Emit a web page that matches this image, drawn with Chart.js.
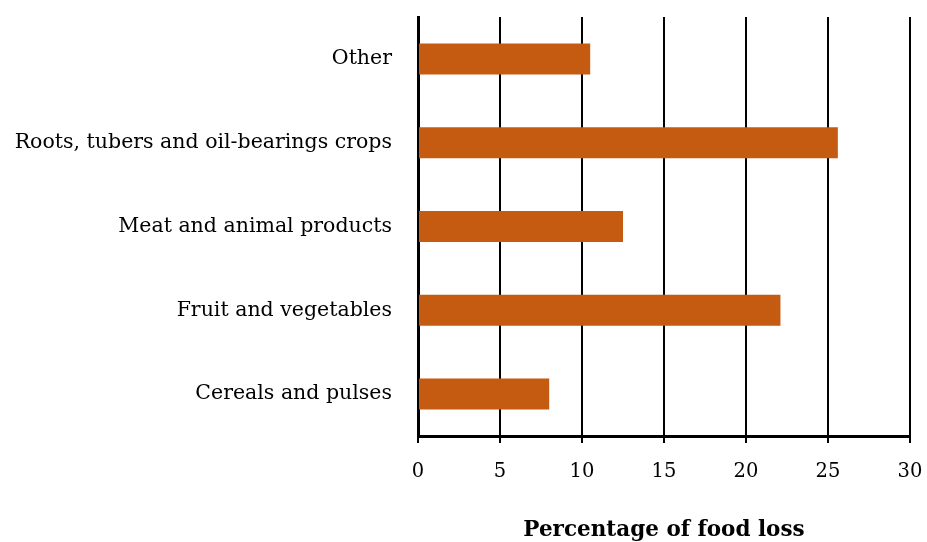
<!DOCTYPE html>
<html>
<head>
<meta charset="utf-8">
<script src="https://cdn.jsdelivr.net/npm/chart.js@4"></script>
<style>
  html, body { margin: 0; padding: 0; background: #fff; }
  canvas { display: block; }
</style>
</head>
<body>
<canvas id="lossChart" width="927" height="542"></canvas>
<script>
const categories = [
  "Other",
  "Roots, tubers and oil-bearings crops",
  "Meat and animal products",
  "Fruit and vegetables",
  "Cereals and pulses"
];
const lossPct = [10.5, 25.6, 12.5, 22.1, 8.0];
const xTicks = [0, 5, 10, 15, 20, 25, 30];

const serif = "'DejaVu Serif', 'Liberation Serif', serif";

const ctx = document.getElementById("lossChart").getContext("2d");

new Chart(ctx, {
  type: "bar",
  data: {
    labels: categories,
    datasets: [{
      data: lossPct,
      backgroundColor: "#c55a11",
      borderWidth: 0,
      categoryPercentage: 1,
      barPercentage: 0.37
    }]
  },
  options: {
    indexAxis: "y",
    responsive: false,
    animation: false,
    layout: { padding: { top: 17, right: 17, left: 0, bottom: 0 } },
    plugins: { legend: { display: false }, tooltip: { enabled: false } },
    scales: {
      x: {
        min: 0,
        max: 30,
        afterBuildTicks: s => { s.ticks = xTicks.map(v => ({ value: v })); },
        afterFit: s => { s.height = 106; s.paddingLeft = 0; s.paddingRight = 0; },
        grid: { color: "#000", lineWidth: 2, tickLength: 7, drawOnChartArea: true },
        border: { display: true, color: "#000", width: 3 },
        ticks: { color: "#000", padding: 17, font: { family: serif, size: 19.5 } },
        title: {
          display: true,
          text: "Percentage of food loss",
          color: "#000",
          padding: { top: 0, bottom: 1 },
          font: { family: serif, size: 21.5, weight: "bold", lineHeight: 1 }
        }
      },
      y: {
        afterFit: s => { s.width = 418; s.paddingTop = 0; s.paddingBottom = 0; },
        grid: { display: false, drawTicks: false },
        border: { display: true, color: "#000", width: 3 },
        ticks: { color: "#000", padding: 26, font: { family: serif, size: 20.5 } }
      }
    }
  }
});
</script>
</body>
</html>
